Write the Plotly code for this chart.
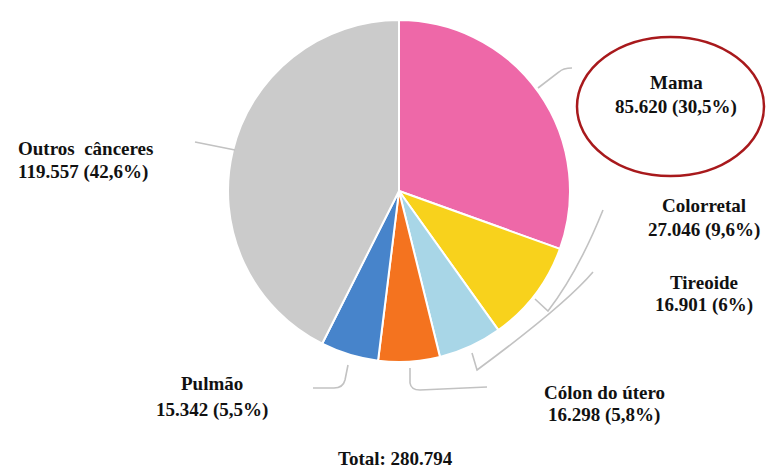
import plotly.graph_objects as go

# ---- data ----
categories = ["Mama", "Colorretal", "Tireoide", "Cólon do útero", "Pulmão", "Outros  cânceres"]
values = [85620, 27046, 16901, 16298, 15342, 119557]
pct_labels = ["30,5%", "9,6%", "6%", "5,8%", "5,5%", "42,6%"]
total_label = "Total: 280.794"
colors = ["#EE68A8", "#F8D21C", "#A8D6E7", "#F4731F", "#4784CB", "#CBCBCB"]

W, H = 766, 468
cx, cy, r = 399, 191, 171


def fmt(v):
    return f"{v:,}".replace(",", ".")


def px(x):
    return x / W


def py(y):
    return 1 - y / H


fig = go.Figure(
    go.Pie(
        values=values,
        labels=categories,
        sort=False,
        direction="clockwise",
        rotation=0,
        marker=dict(colors=colors, line=dict(color="white", width=2)),
        textinfo="none",
        showlegend=False,
        domain=dict(x=[px(cx - r), px(cx + r)], y=[py(cy + r), py(cy - r)]),
    )
)

# label placement (pixel positions of each label's two lines)
label_pos = {
    "Mama": (676, 82, 107, "center"),
    "Colorretal": (704, 205, 230, "center"),
    "Tireoide": (704, 282, 305, "center"),
    "Cólon do útero": (604, 392, 415, "center"),
    "Pulmão": (212, 383, 410, "center"),
    "Outros  cânceres": (16, 148, 172, "left"),
}

font = dict(family="Liberation Serif", size=19, color="#111111", weight="bold")
annotations = []
for name, v, p in zip(categories, values, pct_labels):
    x, y1, y2, anc = label_pos[name]
    annotations.append(dict(x=px(x), y=py(y1), xref="paper", yref="paper", text=name,
                            showarrow=False, xanchor=anc, yanchor="middle", font=font))
    annotations.append(dict(x=px(x), y=py(y2), xref="paper", yref="paper",
                            text=f"{fmt(v)} ({p})", showarrow=False, xanchor=anc,
                            yanchor="middle", font=font))
annotations.append(dict(x=px(395), y=py(458), xref="paper", yref="paper", text=total_label,
                        showarrow=False, xanchor="center", yanchor="middle", font=font))


def path(cmds):
    out = []
    for c in cmds:
        letter, pts = c[0], c[1:]
        out.append(letter + " " + " ".join(f"{px(a):.5f},{py(b):.5f}" for a, b in pts))
    return " ".join(out)


leader_paths = [
    [("M", (538, 88)), ("L", (559, 72)), ("Q", (563, 68), (572, 68))],
    [("M", (235, 150)), ("L", (195, 142))],
    [("M", (535, 299)), ("L", (548, 311)), ("Q", (578, 272), (603, 210))],
    [("M", (472, 353)), ("L", (477, 370)), ("Q", (565, 305), (593, 272))],
    [("M", (348, 365)), ("L", (345, 380)), ("Q", (343, 388), (334, 388)), ("L", (313, 388))],
    [("M", (410, 368)), ("L", (410, 383)), ("Q", (411, 390), (420, 390)), ("L", (487, 387))],
]

shapes = [dict(type="path", xref="paper", yref="paper", path=path(p),
               line=dict(color="#C2C2C2", width=1.6)) for p in leader_paths]
shapes.append(dict(type="circle", xref="paper", yref="paper",
                   x0=px(577), x1=px(764), y0=py(176), y1=py(37),
                   line=dict(color="#A8191C", width=2.5)))

fig.update_layout(
    width=W, height=H,
    margin=dict(l=0, r=0, t=0, b=0),
    paper_bgcolor="white", plot_bgcolor="white",
    annotations=annotations,
    shapes=shapes,
)

fig.write_html("out.html")
